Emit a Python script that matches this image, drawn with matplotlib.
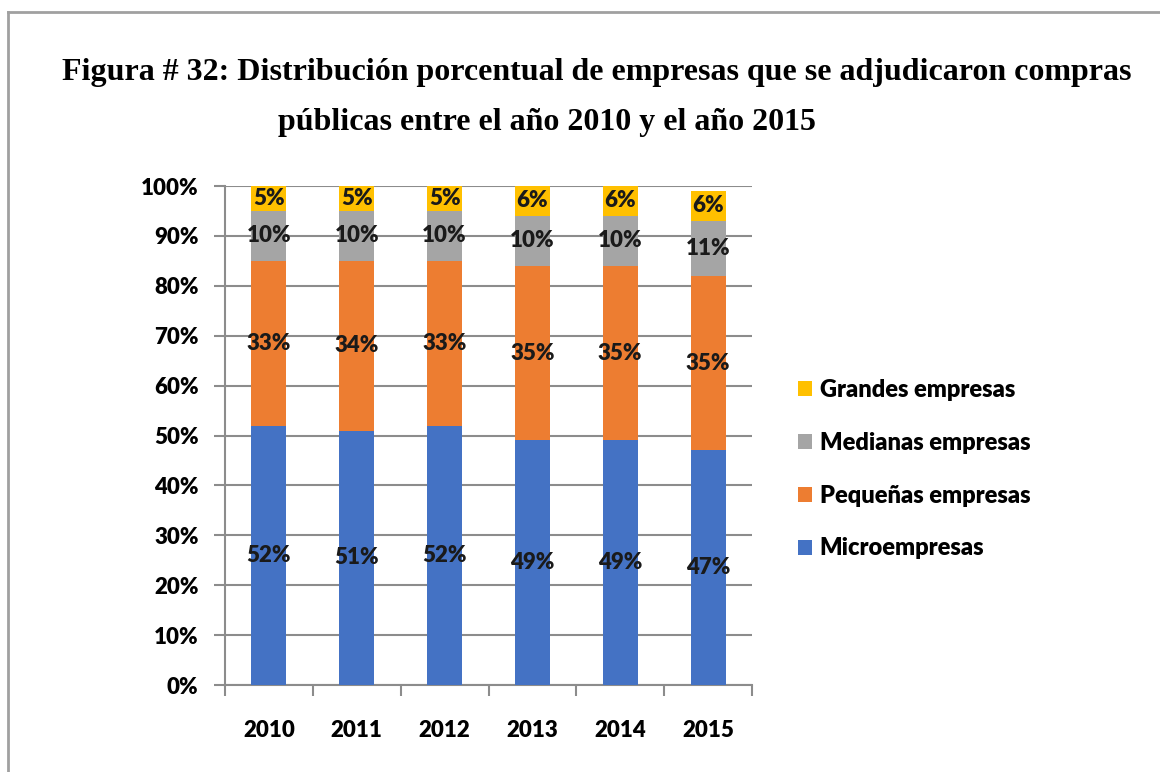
import matplotlib
matplotlib.use("Agg")
import matplotlib.pyplot as plt
from matplotlib.patches import Patch
from matplotlib.lines import Line2D
import numpy as np

years = ["2010", "2011", "2012", "2013", "2014", "2015"]
micro = [52, 51, 52, 49, 49, 47]
pequenas = [33, 34, 33, 35, 35, 35]
medianas = [10, 10, 10, 10, 10, 11]
grandes = [5, 5, 5, 6, 6, 6]
series_names = ["Microempresas", "Pequeñas empresas", "Medianas empresas", "Grandes empresas"]
colors = ["#4472C4", "#ED7D31", "#A5A5A5", "#FFC000"]
title_line1 = "Figura # 32: Distribución porcentual de empresas que se adjudicaron compras"
title_line2 = "públicas entre el año 2010 y el año 2015"

W, H = 1160, 772
fig = plt.figure(figsize=(W / 100, H / 100), dpi=100)
fig.patch.set_facecolor("white")

sans = "Lato"
wt = "heavy"
fs = 16

ax = fig.add_axes([225 / W, 1 - 685 / H, (752 - 225) / W, (685 - 186) / H])
x = np.arange(len(years))
bottom = np.zeros(len(years))
data = [micro, pequenas, medianas, grandes]
for vals, name, c in zip(data, series_names, colors):
    vals = np.array(vals, dtype=float)
    ax.bar(x, vals, 0.4, bottom=bottom, color=c, label=name, zorder=3)
    for xi, b, v in zip(x, bottom, vals):
        ax.text(xi, b + v / 2, f"{int(v)}%", ha="center", va="center",
                fontsize=fs, fontweight=wt, family=sans, color="#1a1a1a", zorder=4)
    bottom += vals

ax.set_xlim(-0.5, len(years) - 0.5)
ax.set_ylim(0, 100)
ax.set_yticks(np.arange(0, 101, 10))
ax.set_yticklabels([f"{v}%" for v in range(0, 101, 10)], fontsize=fs, fontweight=wt, family=sans)
ax.yaxis.grid(True, color="#8c8c8c", linewidth=1.5, zorder=0)
ax.set_axisbelow(True)
ax.tick_params(axis="y", length=8, width=1.5, color="#8c8c8c", pad=11)
ax.set_xticks(x)
ax.set_xticklabels(years, fontsize=fs, fontweight=wt, family=sans)
ax.tick_params(axis="x", which="major", length=0, pad=25)
ax.set_xticks(np.arange(-0.5, len(years), 1.0), minor=True)
ax.tick_params(axis="x", which="minor", length=8, width=1.5, color="#8c8c8c")
for s in ["top", "right"]:
    ax.spines[s].set_visible(False)
for s in ["left", "bottom"]:
    ax.spines[s].set_color("#8c8c8c")
    ax.spines[s].set_linewidth(1.5)

handles = [Patch(facecolor=c, edgecolor="none") for c in colors[::-1]]
labels = series_names[::-1]
leg = fig.legend(handles, labels, loc="upper left", bbox_to_anchor=(777 / W, 1 - 358 / H),
                 frameon=False, prop={"family": sans, "weight": wt, "size": 17},
                 handlelength=0.6, handleheight=0.6, handletextpad=0.3, labelspacing=1.3)

fig.text(62 / W, 1 - 80 / H, title_line1, ha="left", va="baseline",
         family="Liberation Serif", fontweight="bold", fontsize=23)
fig.text(278 / W, 1 - 130 / H, title_line2, ha="left", va="baseline",
         family="Liberation Serif", fontweight="bold", fontsize=23)

# frame lines (top and left)
fig.add_artist(Line2D([8 / W, 1], [1 - 12 / H, 1 - 12 / H], transform=fig.transFigure,
                      color="#a0a0a0", linewidth=2))
fig.add_artist(Line2D([8 / W, 8 / W], [0, 1 - 12 / H], transform=fig.transFigure,
                      color="#a0a0a0", linewidth=2))

fig.savefig("out.png", dpi=100)
